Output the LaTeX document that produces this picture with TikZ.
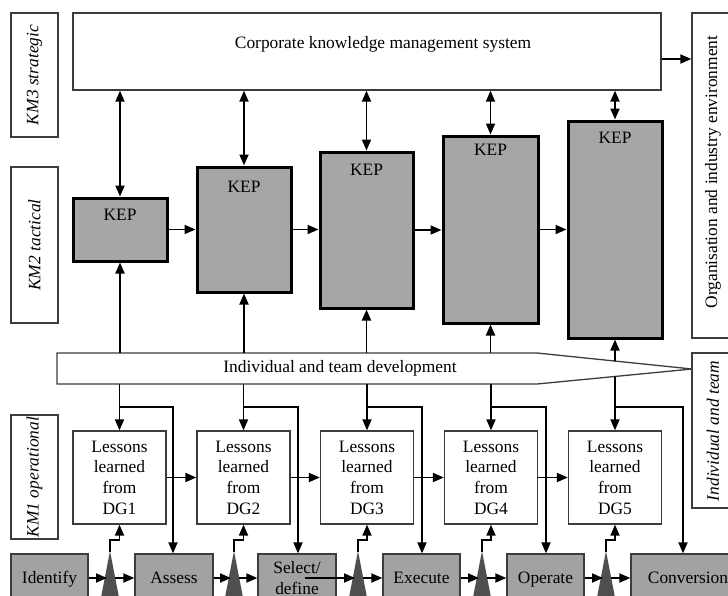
\documentclass[tikz,border=0pt]{standalone}
\usepackage{fontspec}
\setmainfont{Liberation Serif}
\usetikzlibrary{arrows.meta,calc}
\definecolor{kepgray}{HTML}{A6A6A6}
\definecolor{stagegray}{HTML}{A2A2A2}
\definecolor{tridark}{HTML}{4F4F4F}
\definecolor{edgegray}{HTML}{3C3C3C}
\begin{document}
\begin{tikzpicture}[x=1pt,y=-1pt,
  every node/.style={font=\fontsize{17.4}{20.7}\selectfont, text=black},
  frame/.style={draw=edgegray, line width=1.3pt, fill=white, inner sep=0pt},
  kepbox/.style={draw=black, line width=3pt, fill=kepgray, inner sep=0pt, minimum width=94pt},
  stagebox/.style={draw=edgegray, line width=1.3pt, fill=stagegray, inner sep=0pt,
    minimum height=48pt, align=center},
  oneline/.style={text height=14pt, text depth=4pt},
  lessonbox/.style={frame, minimum width=93pt, minimum height=93pt, align=center},
  sidelabel/.style={frame, rotate=90, minimum height=47pt, font=\fontsize{17.4}{20.7}\selectfont\itshape},
  arr/.style={line width=1.8pt, -{Triangle[length=11pt,width=9pt]}},
  dbl/.style={line width=1.8pt, {Triangle[length=11pt,width=9pt]}-{Triangle[length=11pt,width=9pt]}},
  wedge/.style={fill=tridark, draw=none}
]
\useasboundingbox (0,0) rectangle (728,595);
\clip (0,0) rectangle (728,595);

% ---------- level labels ----------
\node[sidelabel, minimum width=124pt] (km3) at (34.5,75) {KM3 strategic};
\node[sidelabel, minimum width=156pt] (km2) at (34.5,245) {KM2 tactical};
\node[sidelabel, minimum width=124pt] (km1) at (34.5,477) {KM1 operational};

% ---------- strategic level ----------
\node[frame, minimum width=588pt, minimum height=77pt] (corp) at (367,51.5) {};
\node (corptext) at (383,44) {Corporate knowledge management system};

% ---------- environment boxes on the right ----------
\node[frame, minimum width=42pt, minimum height=325pt] (org) at (713,175.5) {};
\node[rotate=90] (orgtext) at (713,172) {Organisation and industry environment};
\node[frame, minimum width=42pt, minimum height=155pt] (indiv) at (713,430.5) {};
\node[rotate=90, font=\fontsize{17.4}{20.7}\selectfont\itshape] (indivtext) at (713,431) {Individual and team};

\draw[arr] ([yshift=-7.5pt]corp.east) -- ([yshift=-7.5pt]corp.east -| org.west);

% ---------- tactical level: knowledge exchange points ----------
\node[kepbox, minimum height=63pt]  (kep1) at (120,229.5) {};
\node[kepbox, minimum height=125pt] (kep2) at (244,229.5) {};
\node[kepbox, minimum height=156pt, minimum width=93pt] (kep3) at (366.5,230) {};
\node[kepbox, minimum height=187pt, minimum width=95pt] (kep4) at (490.5,229.5) {};
\node[kepbox, minimum height=217pt] (kep5) at (615,229.5) {};
\node (kep1t) at (120,215) {KEP};
\node (kep2t) at (244,187) {KEP};
\node (kep3t) at (366.5,170) {KEP};
\node (kep4t) at (490.5,150) {KEP};
\node (kep5t) at (615,138) {KEP};

\foreach \k in {1,...,5}{
  \draw[dbl] (kep\k.north |- corp.south) -- (kep\k.north);
}
\foreach \a/\b in {1/2,2/3,3/4,4/5}{
  \draw[arr] (kep\a.east) -- (kep\a.east -| kep\b.west);
}

% ---------- individual and team development band ----------
\coordinate (devtop) at (0,353);
\coordinate (devbot) at (0,384);
\coordinate (bandA) at (537,353);
\coordinate (bandB) at (537,384);
\coordinate (bandtip) at (692,369);
\draw[draw=edgegray, line width=1.3pt, fill=white]
  (57,353) -- (bandA) -- (bandtip) -- (bandB) -- (57,384) -- cycle;
\node (dev) at (340,368) {Individual and team development};

% ---------- operational level: lessons learned ----------
\node[lessonbox] (ll1) at (119.5,477.5) {Lessons\\learned\\from\\DG1};
\node[lessonbox] (ll2) at (243.5,477.5) {Lessons\\learned\\from\\DG2};
\node[lessonbox] (ll3) at (367,477.5)   {Lessons\\learned\\from\\DG3};
\node[lessonbox] (ll4) at (491,477.5)   {Lessons\\learned\\from\\DG4};
\node[lessonbox] (ll5) at (615,477.5)   {Lessons\\learned\\from\\DG5};

\foreach \a/\b in {1/2,2/3,3/4,4/5}{
  \draw[arr] (ll\a.east) -- (ll\a.east -| ll\b.west);
}

% ---------- project stages ----------
\node[stagebox, oneline, minimum width=77pt]  (identify) at (49.5,578)  {Identify};
\node[stagebox, oneline, minimum width=78pt]  (assess)   at (174,578)   {Assess};
\node[stagebox, minimum width=78pt]           (select)   at (297,578)   {Select/\\define};
\node[stagebox, oneline, minimum width=77pt]  (execute)  at (421.5,578) {Execute};
\node[stagebox, oneline, minimum width=77pt]  (operate)  at (545.5,578) {Operate};
\node[stagebox, oneline, minimum width=114pt] (conv)     at (688,578)   {Conversion};

% decision gates
\foreach \i/\x in {1/110,2/234,3/358,4/482,5/606}{
  \fill[wedge] (\x,551) -- (\x+9.5,600) -- (\x-9.5,600) -- cycle;
  \coordinate (gate\i) at (\x,552);
  \coordinate (gatein\i) at (\x-3,578);
  \coordinate (gateout\i) at (\x+5,578);
}

% development band feeds the KEPs and the lessons learned
\foreach \k in {1,...,4}{
  \draw[arr] (kep\k.south |- devtop) -- (kep\k.south);
  \draw[arr] (ll\k.north |- devbot) -- (ll\k.north);
}
\draw[arr] (intersection of bandA--bandtip and kep5.south--ll5.north) -- (kep5.south);
\draw[arr] (intersection of bandB--bandtip and kep5.south--ll5.north) -- (ll5.north);

% lessons learned branch down to the following stage
\coordinate (branch) at (0,407);
\draw[arr] (ll1.north |- branch) -| ([xshift=-1pt]assess.north);
\draw[arr] (ll2.north |- branch) -| ([xshift=1pt]select.north);
\draw[arr] (ll3.north |- branch) -| ([xshift=0.5pt]execute.north);
\draw[arr] (ll4.north |- branch) -| ([xshift=0.5pt]operate.north);
\draw[arr] (ll5.north |- branch) -| ([xshift=-5pt]conv.north);

% stage flow through the gates
\draw[arr] (identify.east) -- (gatein1);
\draw[arr] (gateout1) -- (assess.west);
\draw[arr] (assess.east) -- (gatein2);
\draw[arr] (gateout2) -- (select.west);
\draw[arr] ([xshift=8pt]select.center) -- (gatein3);
\draw[arr] (gateout3) -- (execute.west);
\draw[arr] (execute.east) -- (gatein4);
\draw[arr] (gateout4) -- (operate.west);
\draw[arr] (operate.east) -- (gatein5);
\draw[arr] (gateout5) -- (conv.west);

% gates report to the lessons learned
\foreach \i in {1,...,5}{
  \draw[arr] (gate\i) -- ++(0,-12) -| (ll\i.south);
}
\end{tikzpicture}
\end{document}
